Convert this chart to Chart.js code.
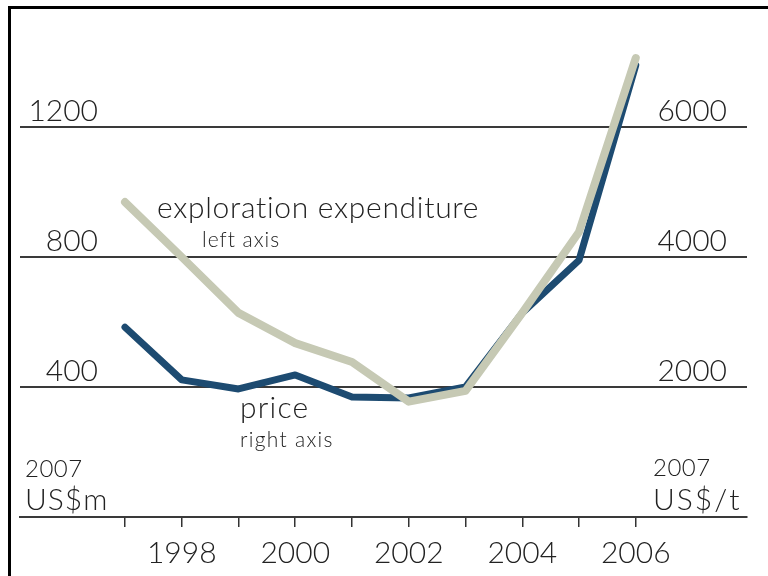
<!DOCTYPE html>
<html>
<head>
<meta charset="utf-8">
<script src="https://cdn.jsdelivr.net/npm/chart.js@4/dist/chart.umd.min.js"></script>
<style>
  html, body { margin: 0; padding: 0; background: #fff; }
  #wrap { position: relative; width: 768px; height: 576px; overflow: hidden; }
  #frame { position: absolute; left: 8px; top: 6px; right: -10px; bottom: -10px;
           border-top: 3px solid #000; border-left: 3px solid #000; pointer-events: none; }
</style>
</head>
<body>
<div id="wrap">
  <canvas id="myChart" width="768" height="576"></canvas>
  <div id="frame"></div>
</div>
<script>
"use strict";

// years on the x axis
const years = [1997, 1998, 1999, 2000, 2001, 2002, 2003, 2004, 2005, 2006];
// exploration expenditure, 2007 US$m (left axis)
const exploration = [969, 800, 628, 535, 477, 355, 388, 628, 877, 1412];
// price, 2007 US$/t (right axis)
const price = [2920, 2110, 1970, 2185, 1845, 1830, 2000, 3140, 3950, 6950];
// tick labels
const leftTicks = [400, 800, 1200];
const rightTicks = [2000, 4000, 6000];

const FONT = 'Lato, "DejaVu Sans", sans-serif';
const INK = '#222';

function txt(ctx, s, x, y, font, spacing) {
    ctx.font = font;
    ctx.letterSpacing = spacing || '0px';
    ctx.fillText(s, x, y);
}

// draws the value labels above gridlines and the text notes
const labelsPlugin = {
    id: 'labels',
    afterDraw(chart) {
        const ctx = chart.ctx;
        const yL = chart.scales.y;
        const yR = chart.scales.y1;
        ctx.save();
        ctx.fillStyle = INK;
        ctx.textBaseline = 'alphabetic';

        ctx.textAlign = 'right';
        leftTicks.forEach(v => txt(ctx, String(v), 98, yL.getPixelForValue(v) - 6, '300 30px ' + FONT));
        rightTicks.forEach(v => txt(ctx, String(v), 727, yR.getPixelForValue(v) - 6, '300 30px ' + FONT));

        ctx.textAlign = 'left';
        txt(ctx, 'exploration expenditure', 157, 218, '300 30px ' + FONT, '0.7px');
        txt(ctx, 'left axis', 202, 247, '300 21px ' + FONT, '1px');
        txt(ctx, 'price', 240, 418, '300 30px ' + FONT, '1.2px');
        txt(ctx, 'right axis', 240, 447, '300 21px ' + FONT, '1.3px');

        txt(ctx, '2007', 25, 477, '300 24px ' + FONT, '0.5px');
        txt(ctx, '2007', 653, 476, '300 24px ' + FONT, '0.5px');
        txt(ctx, 'US$m', 25, 510, '300 30px ' + FONT, '1px');
        txt(ctx, 'US$/t', 653, 510, '300 30px ' + FONT, '2px');
        ctx.restore();
    }
};

const ctx = document.getElementById('myChart').getContext('2d');
new Chart(ctx, {
    type: 'line',
    data: {
        datasets: [{
                label: 'price',
                yAxisID: 'y1',
                data: years.map((x, i) => ({x: x, y: price[i]})),
                borderColor: '#1d4b71',
                borderWidth: 7,
                order: 2
            }, {
                label: 'exploration expenditure',
                yAxisID: 'y',
                data: years.map((x, i) => ({x: x, y: exploration[i]})),
                borderColor: '#c6c9b4',
                borderWidth: 8,
                order: 1
            }
        ]
    },
    options: {
        responsive: false,
        animation: false,
        layout: {autoPadding: false, padding: {left: 20, right: 21, top: 10, bottom: -3}},
        elements: {
            point: {radius: 0},
            line: {tension: 0, borderCapStyle: 'round', borderJoinStyle: 'round'}
        },
        scales: {
            x: {
                type: 'linear',
                min: 1995.15,
                max: 2007.96,
                afterBuildTicks: scale => { scale.ticks = years.map(v => ({value: v})); },
                grid: {drawOnChartArea: false, drawTicks: true, tickLength: 10, color: '#333', lineWidth: 1.5},
                border: {display: true, color: '#3a3a3a', width: 2},
                ticks: {
                    padding: 8,
                    autoSkip: false,
                    maxRotation: 0,
                    color: INK,
                    font: {family: FONT, size: 30, weight: '300'},
                    callback: v => (v % 2 === 0 ? String(v) : '')
                }
            },
            y: {
                position: 'left',
                min: 0,
                max: 1560,
                afterBuildTicks: scale => { scale.ticks = [0].concat(leftTicks).map(v => ({value: v})); },
                ticks: {display: false},
                grid: {drawTicks: false, lineWidth: 2, color: '#3a3a3a'},
                border: {display: false}
            },
            y1: {
                position: 'right',
                min: 0,
                max: 7800,
                display: false
            }
        },
        plugins: {
            legend: {display: false},
            tooltip: {enabled: false}
        }
    },
    plugins: [labelsPlugin]
});
</script>
</body>
</html>
